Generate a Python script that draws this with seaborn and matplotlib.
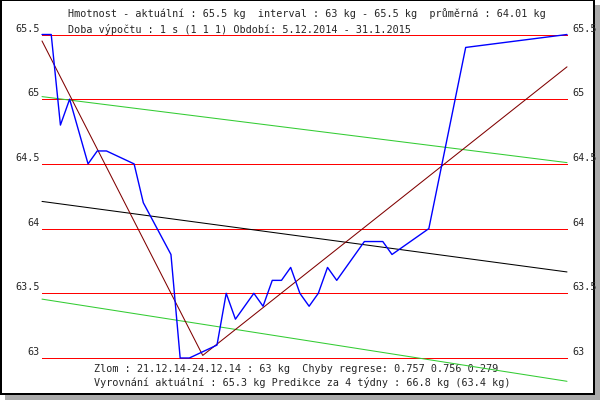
from matplotlib import pyplot as plt
from matplotlib.patches import Rectangle
import pandas as pd
import numpy as np
import seaborn as sns

# --- data (day 0 = 5.12.2014, day 57 = 31.1.2015)
days   = [0, 1, 2, 3, 5, 6, 7, 10, 11, 14, 15, 16, 19, 20, 21, 23, 24, 25, 26,
          27, 28, 29, 30, 31, 32, 35, 37, 38, 42, 46, 57]
weight = [65.5, 65.5, 64.8, 65.0, 64.5, 64.6, 64.6, 64.5, 64.2, 63.8, 63.0, 63.0,
          63.1, 63.5, 63.3, 63.5, 63.4, 63.6, 63.6, 63.7, 63.5, 63.4, 63.5, 63.7,
          63.6, 63.9, 63.9, 63.8, 64.0, 65.4, 65.5]

# regression lines (start / end values)
fit_x      = [0, 57]
fit_mid    = [64.21, 63.665]
fit_upper  = [65.02, 64.51]
fit_lower  = [63.455, 62.82]
# broken line regression with the break point
broken_x   = [0, 17.45, 57]
broken_y   = [65.45, 63.02, 65.25]

grid_levels = [65.5, 65, 64.5, 64, 63.5, 63]
grid_labels = ['65.5', '65', '64.5', '64', '63.5', '63']

top_lines = ['Hmotnost - aktuální : 65.5 kg  interval : 63 kg - 65.5 kg  průměrná : 64.01 kg',
             'Doba výpočtu : 1 s (1 1 1) Období: 5.12.2014 - 31.1.2015']
bottom_lines = ['Zlom : 21.12.14-24.12.14 : 63 kg  Chyby regrese: 0.757 0.756 0.279',
                'Vyrovnání aktuální : 65.3 kg Predikce za 4 týdny : 66.8 kg (63.4 kg)']

sns.set_style('white')
plt.rcParams['font.family'] = ['DejaVu Sans Mono']
FS = 7.3
LW = 0.75

fig = plt.figure(figsize=(6, 4), dpi=100)

# background / frame in pixel coordinates
bg = fig.add_axes([0, 0, 1, 1])
bg.set_xlim(0, 600)
bg.set_ylim(400, 0)
bg.axis('off')
bg.add_patch(Rectangle((595, 5), 5, 395, color='#aaaaaa', lw=0))
bg.add_patch(Rectangle((5, 395), 595, 5, color='#aaaaaa', lw=0))
bg.add_patch(Rectangle((0, 0), 595, 395, color='black', lw=0))
bg.add_patch(Rectangle((2, 1), 591, 392, color='white', lw=0))

bg.text(68, 13.5, top_lines[0], fontsize=FS, ha='left', va='center')
bg.text(68, 29.5, top_lines[1], fontsize=FS, ha='left', va='center')
bg.text(94, 369, bottom_lines[0], fontsize=FS, ha='left', va='center')
bg.text(94, 383, bottom_lines[1], fontsize=FS, ha='left', va='center')

# data axes mapped so that day 0 -> px 42, day 57 -> px 567, 65.5 -> px 35, 63 -> px 358.5
ax = fig.add_axes([0, 0, 1, 1])
ax.patch.set_alpha(0)
px_day = 525 / 57
px_kg = 323.5 / 2.5
ax.set_xlim(-42 / px_day, 558 / px_day)
ax.set_ylim(65.5 - 365.5 / px_kg, 65.5 + 34.5 / px_kg)
ax.axis('off')

ax.hlines(grid_levels, 0, 57, colors='#ff0000', lw=0.72, antialiased=False, zorder=1)

fits = pd.DataFrame({'x': fit_x * 3,
                     'y': fit_upper + fit_mid + fit_lower,
                     'line': ['upper'] * 2 + ['mid'] * 2 + ['lower'] * 2})
sns.lineplot(data=fits, x='x', y='y', hue='line',
             palette={'upper': '#33cc33', 'mid': 'black', 'lower': '#33cc33'},
             lw=LW, legend=False, ax=ax, zorder=2)

sns.lineplot(x=broken_x, y=broken_y, color='#800000', lw=LW, ax=ax, zorder=3)

df = pd.DataFrame({'day': days, 'kg': weight})
sns.lineplot(data=df, x='day', y='kg', color='#0000ff', lw=1.0, ax=ax, zorder=4)

# tick labels on both sides, just above each grid line
for lv, lab in zip(grid_levels, grid_labels):
    ax.annotate(lab, xy=(0, lv), xytext=(-2.5, 6), textcoords='offset pixels',
                ha='right', va='center', fontsize=FS)
    ax.annotate(lab, xy=(57, lv), xytext=(5, 6), textcoords='offset pixels',
                ha='left', va='center', fontsize=FS)

ax.set_xlim(-42 / px_day, 558 / px_day)
ax.set_ylim(65.5 - 365.5 / px_kg, 65.5 + 34.5 / px_kg)

fig.savefig('out.png', dpi=100)
